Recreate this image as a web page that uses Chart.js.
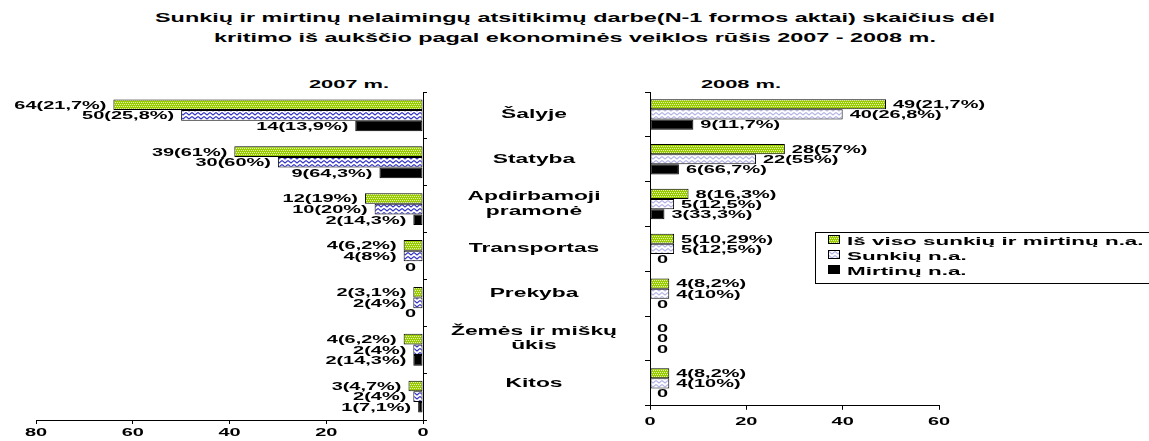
<!DOCTYPE html>
<html>
<head>
  <meta charset="UTF-8" />
  <title>Sunkių ir mirtinų nelaimingų atsitikimų darbe skaičius dėl kritimo iš aukščio</title>
  <script src="https://cdn.jsdelivr.net/npm/chart.js"></script>
  <style>
    body {
      margin: 0;
      width: 1149px; height: 441px;
      overflow: hidden;
      position: relative;
      background: #fff; color: #000;
      font-family: 'Liberation Sans', Arial, sans-serif;
      font-weight: bold;
    }
    canvas { position: absolute; top: 0; }
    #c2007 { left: 0; }
    #c2008 { left: 440px; }
    .wide {
      position: absolute;
      white-space: nowrap;
      line-height: 14px;
      transform: translateX(-50%) scaleX(1.8);
    }
    .title { font-size: 13px; left: 575px; }
    .year { font-size: 11.5px; top: 77px; transform: translateX(-50%) scaleX(1.9); }
    .legend {
      position: absolute;
      left: 815px; top: 232px;
      width: 360px; height: 50px;
      border: 1px solid #000;
      font-size: 11.5px;
    }
    .legend div { position: absolute; left: 12px; height: 14px; line-height: 14px; white-space: nowrap; }
    .legend i {
      display: inline-block;
      width: 10px; height: 7px;
      border: 1px solid #000;
      vertical-align: 1px;
    }
    .legend span {
      display: inline-block;
      margin-left: 7px;
      transform: scaleX(1.95);
      transform-origin: left center;
    }
  </style>
</head>
<body>
  <span class="wide title" style="top:11px">Sunkių ir mirtinų nelaimingų atsitikimų darbe(N-1 formos aktai) skaičius dėl</span>
  <span class="wide title" style="top:31px">kritimo iš aukščio pagal ekonominės veiklos rūšis 2007 - 2008 m.</span>
  <span class="wide year" style="left:349px">2007 m.</span>
  <span class="wide year" style="left:741px">2008 m.</span>

  <canvas id="c2007" width="440" height="441"></canvas>
  <canvas id="c2008" width="709" height="441"></canvas>

  <div class="legend" id="legend"></div>

  <script>
    // categories (middle column) and series
    const categories = ['Šalyje', 'Statyba', ['Apdirbamoji', 'pramonė'], 'Transportas',
                        'Prekyba', ['Žemės ir miškų', 'ūkis'], 'Kitos'];
    const seriesNames = ['Iš viso sunkių ir mirtinų n.a.', 'Sunkių n.a.', 'Mirtinų n.a.'];

    // 2007
    const total2007   = [64, 39, 12, 4, 2, 4, 3];
    const serious2007 = [50, 30, 10, 4, 2, 2, 2];
    const fatal2007   = [14, 9, 2, 0, 0, 2, 1];
    const totalText2007   = ['64(21,7%)', '39(61%)', '12(19%)', '4(6,2%)', '2(3,1%)', '4(6,2%)', '3(4,7%)'];
    const seriousText2007 = ['50(25,8%)', '30(60%)', '10(20%)', '4(8%)', '2(4%)', '2(4%)', '2(4%)'];
    const fatalText2007   = ['14(13,9%)', '9(64,3%)', '2(14,3%)', '0', '0', '2(14,3%)', '1(7,1%)'];
    const axisMax2007 = 80;

    // 2008
    const total2008   = [49, 28, 8, 5, 4, 0, 4];
    const serious2008 = [40, 22, 5, 5, 4, 0, 4];
    const fatal2008   = [9, 6, 3, 0, 0, 0, 0];
    const totalText2008   = ['49(21,7%)', '28(57%)', '8(16,3%)', '5(10,29%)', '4(8,2%)', '0', '4(8,2%)'];
    const seriousText2008 = ['40(26,8%)', '22(55%)', '5(12,5%)', '5(12,5%)', '4(10%)', '0', '4(10%)'];
    const fatalText2008   = ['9(11,7%)', '6(66,7%)', '3(33,3%)', '0', '0', '0', '0'];
    const axisMax2008 = 60;

    const tickStep = 20;

    const FONT = "'Liberation Sans', Arial, sans-serif";

    // small pattern tiles for the bar fills
    function makeTile(w, h, draw) {
      const c = document.createElement('canvas');
      c.width = w; c.height = h;
      draw(c.getContext('2d'));
      return c;
    }
    const greenTile = makeTile(4, 4, g => {
      g.fillStyle = '#99cc00'; g.fillRect(0, 0, 4, 4);
      g.fillStyle = '#e8f6b0';
      g.fillRect(0, 0, 1, 1); g.fillRect(2, 0, 1, 1);
      g.fillRect(1, 2, 1, 1); g.fillRect(3, 2, 1, 1);
    });
    function waveTile(color) {
      return makeTile(6, 4, g => {
        g.fillStyle = '#fff'; g.fillRect(0, 0, 6, 4);
        g.strokeStyle = color; g.lineWidth = 1.1;
        g.beginPath(); g.moveTo(0, 0.5); g.lineTo(3, 3); g.lineTo(6, 0.5); g.stroke();
      });
    }
    const blueTileDark = waveTile('#3434c4');
    const blueTileLight = waveTile('#b4b4e6');

    // text in the picture is drawn wide: stretch canvas text horizontally
    function stretchText(canvas, sx) {
      const ctx = canvas.getContext('2d');
      const fill = ctx.fillText.bind(ctx);
      const measure = ctx.measureText.bind(ctx);
      ctx.fillText = (t, x, y, mw) => {
        ctx.save();
        ctx.translate(x, y);
        ctx.scale(sx, 1);
        if (mw === undefined) fill(t, 0, 0); else fill(t, 0, 0, mw / sx);
        ctx.restore();
      };
      ctx.measureText = t => {
        const m = measure(t);
        return { width: m.width * sx,
                 actualBoundingBoxAscent: m.actualBoundingBoxAscent,
                 actualBoundingBoxDescent: m.actualBoundingBoxDescent };
      };
      return ctx;
    }

    // value labels next to the bar ends
    const barLabels = {
      id: 'barLabels',
      afterDatasetsDraw(chart, args, opts) {
        const ctx = chart.ctx;
        ctx.save();
        ctx.font = 'bold 10.5px ' + FONT;
        ctx.fillStyle = '#000';
        ctx.textBaseline = 'middle';
        ctx.textAlign = opts.side < 0 ? 'right' : 'left';
        chart.data.datasets.forEach((ds, i) => {
          chart.getDatasetMeta(i).data.forEach((bar, j) => {
            ctx.fillText(ds.texts[j], bar.x + opts.side * 7, bar.y + 1);
          });
        });
        ctx.restore();
      }
    };

    function makeDatasets(total, serious, fatal, texts, blueTile, ctx) {
      const common = { borderColor: '#000', borderWidth: 1, borderSkipped: false,
                       categoryPercentage: 0.68, barPercentage: 1 };
      return [
        { label: seriesNames[0], data: total, texts: texts[0],
          backgroundColor: ctx.createPattern(greenTile, 'repeat'), ...common },
        { label: seriesNames[1], data: serious, texts: texts[1],
          backgroundColor: ctx.createPattern(blueTile, 'repeat'), ...common },
        { label: seriesNames[2], data: fatal, texts: texts[2],
          backgroundColor: '#000', ...common }
      ];
    }

    const axisLine = { color: '#000', width: 1 };
    const tickFont = { family: FONT, size: 10.5, weight: 'bold' };

    // 2007: bars grow to the left
    const ctx07 = stretchText(document.getElementById('c2007'), 1.9);
    new Chart(ctx07, {
      type: 'bar',
      data: {
        labels: categories,
        datasets: makeDatasets(total2007, serious2007, fatal2007,
          [totalText2007, seriousText2007, fatalText2007], blueTileDark, ctx07)
      },
      options: {
        indexAxis: 'y',
        responsive: false,
        animation: false,
        layout: { padding: { left: 36, right: 12, top: 92, bottom: 0 } },
        plugins: {
          legend: { display: false },
          tooltip: { enabled: false },
          barLabels: { side: -1 }
        },
        scales: {
          x: {
            min: 0, max: axisMax2007, reverse: true,
            ticks: { stepSize: tickStep, color: '#000', font: tickFont, padding: 3 },
            grid: { drawOnChartArea: false, tickLength: 4, color: '#000' },
            border: axisLine,
            afterFit: s => { s.height = 21; }
          },
          y: {
            position: 'right',
            ticks: { display: false },
            grid: { drawOnChartArea: false, tickLength: 4, color: '#000' },
            border: axisLine,
            afterFit: s => { s.width = 5; }
          }
        }
      },
      plugins: [barLabels]
    });

    // 2008: bars grow to the right, category names on its axis
    const ctx08 = stretchText(document.getElementById('c2008'), 1.9);
    new Chart(ctx08, {
      type: 'bar',
      data: {
        labels: categories,
        datasets: makeDatasets(total2008, serious2008, fatal2008,
          [totalText2008, seriousText2008, fatalText2008], blueTileLight, ctx08)
      },
      options: {
        indexAxis: 'y',
        responsive: false,
        animation: false,
        layout: { padding: { left: 0, right: 210, top: 92, bottom: 0 } },
        plugins: {
          legend: { display: false },
          tooltip: { enabled: false },
          barLabels: { side: 1 }
        },
        scales: {
          x: {
            min: 0, max: axisMax2008,
            ticks: { stepSize: tickStep, color: '#000', font: tickFont, padding: 6 },
            grid: { drawOnChartArea: false, tickLength: 4, color: '#000' },
            border: axisLine,
            afterFit: s => { s.height = 21; }
          },
          y: {
            position: 'left',
            ticks: { color: '#000', crossAlign: 'center', padding: 28,
                     font: { family: FONT, size: 12, weight: 'bold', lineHeight: 1.2 } },
            grid: { drawOnChartArea: false, tickLength: 5, color: '#000' },
            border: axisLine,
            afterFit: s => { s.width = 210; }
          }
        }
      },
      plugins: [barLabels]
    });

    // legend box (overlaps the 2008 plot like the original)
    const swatches = [greenTile.toDataURL(), blueTileLight.toDataURL(), null];
    const legend = document.getElementById('legend');
    seriesNames.forEach((name, i) => {
      const row = document.createElement('div');
      row.style.top = (1 + i * 15) + 'px';
      const bg = swatches[i] ? `background:url(${swatches[i]})` : 'background:#000';
      row.innerHTML = `<i style="${bg}"></i><span>${name}</span>`;
      legend.appendChild(row);
    });
  </script>
</body>
</html>
